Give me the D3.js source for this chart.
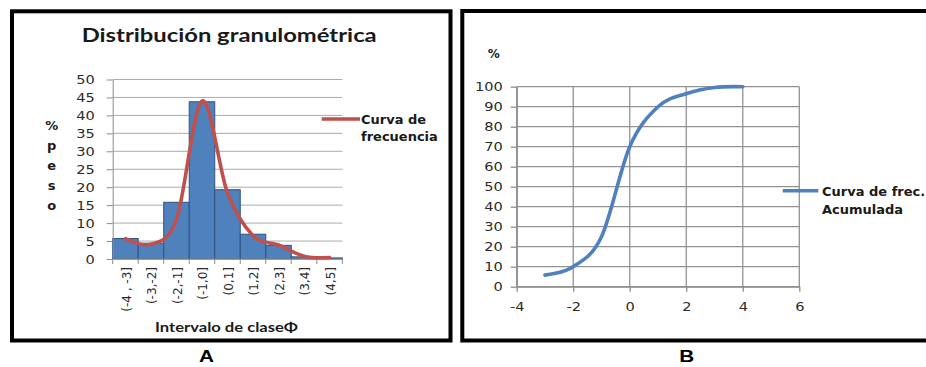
<!DOCTYPE html>
<html>
<head>
<meta charset="utf-8">
<script src="https://cdn.jsdelivr.net/npm/d3@7"></script>
<style>
  body { margin: 0; background: #fff; }
  svg { display: block; }
</style>
</head>
<body>
<script>
// ---- Panel A: grain-size histogram (percent by weight per phi class) ----
const categories = ["(-4 , -3]", "(-3,-2]", "(-2,-1]", "(-1,0]", "(0,1]", "(1,2]", "(2,3]", "(3,4]", "(4,5]"];
const pesoPct = [5.7, 4.4, 15.8, 43.8, 19.3, 6.9, 3.8, 0.6, 0.3];
const curvaFrecuencia = [5.7, 4.1, 11, 44, 18.4, 6.5, 3.9, 0.8, 0.4];
const yTicksA = [0, 5, 10, 15, 20, 25, 30, 35, 40, 45, 50];

// ---- Panel B: cumulative frequency curve ----
const phiB = [-3, -2, -1, 0, 1, 2, 3, 4];
const acumulado = [5.8, 10, 25, 70, 90, 96.5, 99.6, 100];
const xTicksB = [-4, -2, 0, 2, 4, 6];
const yTicksB = [0, 10, 20, 30, 40, 50, 60, 70, 80, 90, 100];

const W = 926, H = 367;
const svg = d3.select("body").append("svg").attr("width", W).attr("height", H);

const TICK_FONT = "'DejaVu Sans', Verdana, sans-serif";
const TEXT_COL = "#2b2b2b";
const plain = d => String(d);   // hyphen-minus, as in the spreadsheet labels

// stretch text horizontally by factor k (wide Verdana-like lettering)
function widen(sel, k) {
  sel.each(function () {
    const w = this.getComputedTextLength();
    d3.select(this).attr("textLength", w * k).attr("lengthAdjust", "spacingAndGlyphs");
  });
}

// ================= Panel A =================
const gA = svg.append("g");
gA.append("rect").attr("x", 12).attr("y", 11.3).attr("width", 438.5).attr("height", 329.2)
  .attr("fill", "none").attr("stroke", "#000").attr("stroke-width", 4);

const xA = d3.scaleBand().domain(categories).range([112.7, 342.3]).paddingInner(0).paddingOuter(0);
const yA = d3.scaleLinear().domain([0, 50]).range([259, 79.5]);

// horizontal gridlines
gA.append("g").selectAll("line").data(yTicksA.filter(d => d > 0)).join("line")
  .attr("x1", xA.range()[0]).attr("x2", xA.range()[1])
  .attr("y1", d => yA(d)).attr("y2", d => yA(d))
  .attr("stroke", "#ababab").attr("stroke-width", 1);

// bars
gA.append("g").selectAll("rect").data(categories).join("rect")
  .attr("x", d => xA(d)).attr("width", xA.bandwidth())
  .attr("y", (d, i) => yA(pesoPct[i])).attr("height", (d, i) => yA(0) - yA(pesoPct[i]))
  .attr("fill", "#4f81bd").attr("stroke", "#2f5282").attr("stroke-width", 1);

// y axis
const axA = gA.append("g").attr("transform", `translate(${xA.range()[0]},0)`)
  .call(d3.axisLeft(yA).tickValues(yTicksA).tickFormat(plain).tickSize(6).tickPadding(12).tickSizeOuter(0));
axA.select(".domain").attr("stroke", "#8c8c8c");
axA.selectAll(".tick line").attr("stroke", "#8c8c8c");
axA.selectAll(".tick text").attr("font-family", TICK_FONT).attr("font-size", 13)
  .attr("fill", TEXT_COL).call(widen, 1.12);

// x axis line and class-boundary ticks
const boundsA = categories.map(c => xA(c)).concat([xA.range()[1]]);
gA.append("line").attr("x1", xA.range()[0]).attr("x2", xA.range()[1])
  .attr("y1", yA(0)).attr("y2", yA(0)).attr("stroke", "#8c8c8c");
gA.append("g").selectAll("line").data(boundsA).join("line")
  .attr("x1", d => d).attr("x2", d => d).attr("y1", yA(0)).attr("y2", yA(0) + 5)
  .attr("stroke", "#8c8c8c");

// rotated class labels
gA.append("g").selectAll("text").data(categories).join("text")
  .attr("transform", d => `translate(${xA(d) + xA.bandwidth() / 2 + 1},${yA(0) + 8}) rotate(-90)`)
  .attr("text-anchor", "end").attr("dy", "0.35em")
  .attr("font-family", TICK_FONT).attr("font-size", 12).attr("fill", TEXT_COL)
  .text(d => d);

// frequency curve
const lineA = d3.line()
  .x((d, i) => xA(categories[i]) + xA.bandwidth() / 2)
  .y(d => yA(d))
  .curve(d3.curveCardinal.tension(0));
gA.append("path").datum(curvaFrecuencia).attr("d", lineA)
  .attr("fill", "none").attr("stroke", "#c0504d").attr("stroke-width", 3.6)
  .attr("stroke-linecap", "round").attr("stroke-linejoin", "round");

// title
gA.append("text").attr("x", 229.2).attr("y", 41.7).attr("text-anchor", "middle")
  .attr("font-family", "Lato, 'Open Sans', sans-serif").attr("font-weight", 700)
  .attr("font-size", 19).attr("fill", "#1a1a1a")
  .attr("textLength", 295).attr("lengthAdjust", "spacingAndGlyphs")
  .text("Distribución granulométrica");

// vertical y title
const yTitleA = ["%", "p", "e", "s", "o"];
const yTitleBase = [129.5, 150, 169.5, 189.5, 210];
gA.append("g").selectAll("text").data(yTitleA).join("text")
  .attr("x", 51.7).attr("y", (d, i) => yTitleBase[i]).attr("text-anchor", "middle")
  .attr("font-family", TICK_FONT).attr("font-weight", 700).attr("font-size", 13)
  .attr("fill", "#1a1a1a").text(d => d);

// x title
gA.append("text").attr("x", 226.5).attr("y", 332.3).attr("text-anchor", "middle")
  .attr("font-family", "Lato, 'Open Sans', sans-serif").attr("font-weight", 700)
  .attr("font-size", 13.5).attr("fill", "#1a1a1a")
  .attr("textLength", 143).attr("lengthAdjust", "spacingAndGlyphs")
  .text("Intervalo de claseΦ");

// legend A
gA.append("line").attr("x1", 321.7).attr("x2", 360).attr("y1", 119).attr("y2", 119)
  .attr("stroke", "#c0504d").attr("stroke-width", 3.6);
gA.append("text").attr("x", 361).attr("y", 123.5)
  .attr("font-family", TICK_FONT).attr("font-weight", 700).attr("font-size", 13)
  .attr("fill", "#1a1a1a").text("Curva de");
gA.append("text").attr("x", 361).attr("y", 141)
  .attr("font-family", TICK_FONT).attr("font-weight", 700).attr("font-size", 13)
  .attr("fill", "#1a1a1a").text("frecuencia");

// panel letter
svg.append("text").attr("x", 206.5).attr("y", 362.3).attr("text-anchor", "middle")
  .attr("font-family", "'Liberation Sans', Arial, sans-serif").attr("font-weight", 700)
  .attr("font-size", 17).attr("fill", "#000")
  .attr("textLength", 15).attr("lengthAdjust", "spacingAndGlyphs").text("A");

// ================= Panel B =================
const gB = svg.append("g");
gB.append("rect").attr("x", 462.3).attr("y", 11).attr("width", 480).attr("height", 329.5)
  .attr("fill", "none").attr("stroke", "#000").attr("stroke-width", 4);

const xB = d3.scaleLinear().domain([-4, 6]).range([516.7, 799.3]);
const yB = d3.scaleLinear().domain([0, 100]).range([286.7, 86.7]);

// grid
gB.append("g").selectAll("line").data(yTicksB).join("line")
  .attr("x1", xB(-4)).attr("x2", xB(6)).attr("y1", d => yB(d)).attr("y2", d => yB(d))
  .attr("stroke", "#929292").attr("stroke-width", 1.3);
gB.append("g").selectAll("line").data(xTicksB).join("line")
  .attr("x1", d => xB(d)).attr("x2", d => xB(d)).attr("y1", yB(0)).attr("y2", yB(100))
  .attr("stroke", "#929292").attr("stroke-width", 1.3);

// axes
const axBy = gB.append("g").attr("transform", `translate(${xB(-4)},0)`)
  .call(d3.axisLeft(yB).tickValues(yTicksB).tickFormat(plain).tickSize(6).tickPadding(8).tickSizeOuter(0));
const axBx = gB.append("g").attr("transform", `translate(0,${yB(0)})`)
  .call(d3.axisBottom(xB).tickValues(xTicksB).tickFormat(plain).tickSize(5).tickPadding(10).tickSizeOuter(0));
[axBy, axBx].forEach(ax => {
  ax.select(".domain").attr("stroke", "#8c8c8c").attr("stroke-width", 1.3);
  ax.selectAll(".tick line").attr("stroke", "#8c8c8c").attr("stroke-width", 1.3);
  ax.selectAll(".tick text").attr("font-family", TICK_FONT).attr("font-size", 13)
    .attr("fill", TEXT_COL).call(widen, 1.12);
});

// cumulative curve
const lineB = d3.line()
  .x((d, i) => xB(phiB[i]))
  .y(d => yB(d))
  .curve(d3.curveCardinal.tension(0));
gB.append("path").datum(acumulado).attr("d", lineB)
  .attr("fill", "none").attr("stroke", "#4f81bd").attr("stroke-width", 3.6)
  .attr("stroke-linecap", "round").attr("stroke-linejoin", "round");

// "%" label
gB.append("text").attr("x", 493.7).attr("y", 57.7).attr("text-anchor", "middle")
  .attr("font-family", TICK_FONT).attr("font-weight", 700).attr("font-size", 12)
  .attr("fill", "#1a1a1a").text("%");

// legend B
gB.append("line").attr("x1", 782.7).attr("x2", 818.3).attr("y1", 190.7).attr("y2", 190.7)
  .attr("stroke", "#4f81bd").attr("stroke-width", 3.6);
gB.append("text").attr("x", 822).attr("y", 195.7)
  .attr("font-family", TICK_FONT).attr("font-weight", 700).attr("font-size", 13)
  .attr("fill", "#1a1a1a").text("Curva de frec.");
gB.append("text").attr("x", 822).attr("y", 214)
  .attr("font-family", TICK_FONT).attr("font-weight", 700).attr("font-size", 13)
  .attr("fill", "#1a1a1a").text("Acumulada");

// panel letter
svg.append("text").attr("x", 686.7).attr("y", 362.3).attr("text-anchor", "middle")
  .attr("font-family", "'Liberation Sans', Arial, sans-serif").attr("font-weight", 700)
  .attr("font-size", 17).attr("fill", "#000")
  .attr("textLength", 15).attr("lengthAdjust", "spacingAndGlyphs").text("B");
</script>
</body>
</html>
